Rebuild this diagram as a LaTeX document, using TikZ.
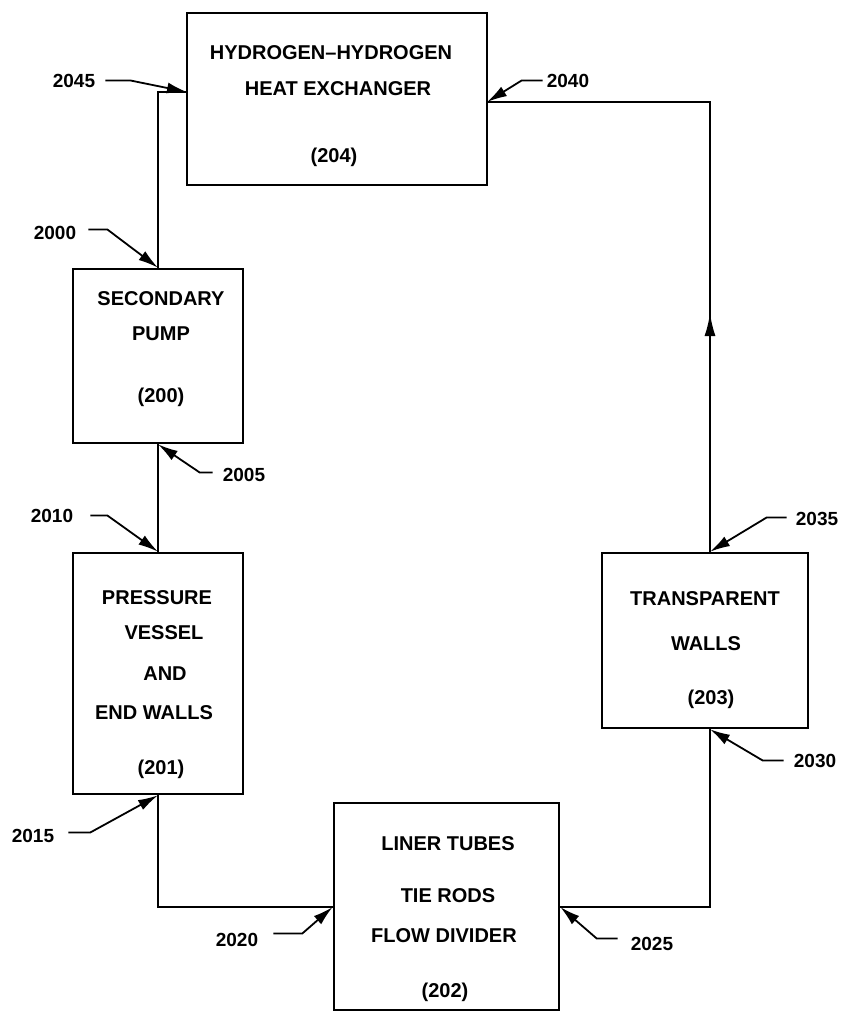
\documentclass[tikz,border=0pt]{standalone}
\usepackage{fontspec}
\setmainfont{Liberation Sans}
\usetikzlibrary{arrows.meta}
\tikzset{
  box/.style={draw, line width=2.6pt, inner sep=0pt},
  txt/.style={font=\bfseries\fontsize{20}{24}\selectfont, anchor=base, inner sep=0pt},
  num/.style={font=\bfseries\fontsize{19}{22}\selectfont, anchor=base, inner sep=0pt},
  flow/.style={line width=2.2pt},
  leader/.style={line width=1.8pt, -{Latex[length=20pt,width=11pt]}},
  midarrow/.style={line width=2.2pt, -{Latex[length=23pt,width=11pt]}}
}
\begin{document}
\begin{tikzpicture}[x=1pt,y=-1pt]
\useasboundingbox (0,0) rectangle (845,1013);

% boxes
\node[box, minimum width=300, minimum height=172] (B204) at (337,99) {};
\node[box, minimum width=170, minimum height=174] (B200) at (158,356) {};
\node[box, minimum width=170, minimum height=241] (B201) at (158,673.5) {};
\node[box, minimum width=225, minimum height=207] (B202) at (446.5,906.5) {};
\node[box, minimum width=206, minimum height=175] (B203) at (705,640.5) {};

% box texts
\node[txt] (t204a) at (331,59) {HYDROGEN–HYDROGEN};
\node[txt] (t204b) at (338,95) {HEAT EXCHANGER};
\node[txt] (t204c) at (334,162) {(204)};

\node[txt] (t200a) at (161,305) {SECONDARY};
\node[txt] (t200b) at (161,340) {PUMP};
\node[txt] (t200c) at (161,402) {(200)};

\node[txt] (t201a) at (157,604) {PRESSURE};
\node[txt] (t201b) at (164,639) {VESSEL};
\node[txt] (t201c) at (165,680) {AND};
\node[txt] (t201d) at (154,719) {END WALLS};
\node[txt] (t201e) at (161,774) {(201)};

\node[txt] (t202a) at (448,850) {LINER TUBES};
\node[txt] (t202b) at (448,902) {TIE RODS};
\node[txt] (t202c) at (444,942) {FLOW DIVIDER};
\node[txt] (t202d) at (445,997) {(202)};

\node[txt] (t203a) at (705,605) {TRANSPARENT};
\node[txt] (t203b) at (706,650) {WALLS};
\node[txt] (t203c) at (711,704) {(203)};

% helper coordinates
\coordinate (in204) at (187,92);
\coordinate (r204) at (487,102);
\coordinate (rx) at (710,0);
\coordinate (fy) at (0,907);
\coordinate (mid) at (710,313);
\coordinate (midbase) at (710,345);

% flow lines
\draw[flow] (B200.north) -- (B200.north |- in204) -- (in204);
\draw[flow] (B200.south) -- (B201.north);
\draw[flow] (B201.south) -- (B201.south |- fy) -- (B202.west |- fy);
\draw[flow] (B202.east |- fy) -- (rx |- fy) -- (B203.south -| rx);
\draw[flow] (B203.north -| rx) -- (rx |- r204) -- (r204);
\draw[midarrow] (midbase) -- (mid);

% reference labels
\node[num] (L2045) at (74,87) {2045};
\node[num] (L2040) at (568,87) {2040};
\node[num] (L2000) at (55,239) {2000};
\node[num] (L2005) at (244,481) {2005};
\node[num] (L2010) at (52,522) {2010};
\node[num] (L2015) at (33,842) {2015};
\node[num] (L2020) at (237,946) {2020};
\node[num] (L2025) at (652,950) {2025};
\node[num] (L2030) at (815,767) {2030};
\node[num] (L2035) at (817,525) {2035};

% leaders
\draw[leader] ([xshift=10pt]L2045.east) -- ++(25,0) -- (in204);
\draw[leader] ([xshift=-4pt]L2040.west) -- ++(-21,0) -- (r204);
\draw[leader] ([xshift=12pt,yshift=3pt]L2000.east) -- ++(19,0) -- (B200.north);
\draw[leader] ([xshift=-10pt,yshift=2pt]L2005.west) -- ++(-13,0) -- (B200.south);
\draw[leader] ([xshift=17pt]L2010.east) -- ++(17,0) -- (B201.north);
\draw[leader] ([xshift=14pt,yshift=3pt]L2015.east) -- ++(22,0) -- (B201.south);
\draw[leader] ([xshift=15pt,yshift=6pt]L2020.east) -- ++(29,0) -- (B202.west |- fy);
\draw[leader] ([xshift=-13pt,yshift=5pt]L2025.west) -- ++(-21,0) -- (B202.east |- fy);
\draw[leader] ([xshift=-10pt]L2030.west) -- ++(-21,0) -- (B203.south -| rx);
\draw[leader] ([xshift=-9pt,yshift=1pt]L2035.west) -- ++(-20,0) -- (B203.north -| rx);
\end{tikzpicture}
\end{document}
